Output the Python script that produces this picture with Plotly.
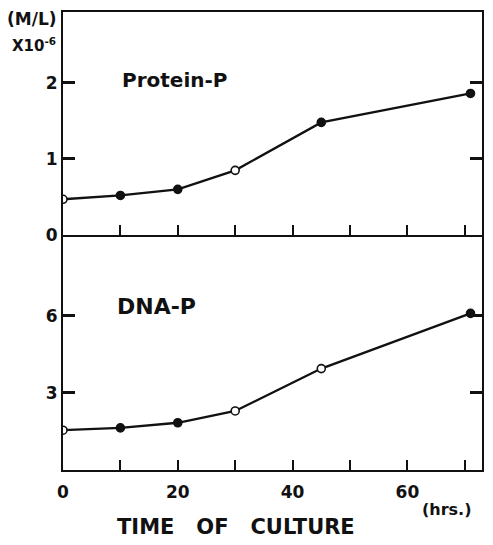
import plotly.graph_objects as go
from plotly.subplots import make_subplots

# ---- data ----
hours = [0, 10, 20, 30, 45, 71]
protein_p = [0.47, 0.52, 0.60, 0.85, 1.48, 1.86]
dna_p = [1.55, 1.64, 1.84, 2.30, 3.95, 6.10]
protein_open = [True, False, False, True, False, False]
dna_open = [True, False, False, True, True, False]

x_tick_vals = [0, 20, 40, 60]
x_tick_text = ["0", "20", "40", "60"]
x_minor_step = 10
x_range = [0, 73]
protein_tick_vals = [0, 1, 2]
dna_tick_vals = [3, 6]
protein_range = [0, 2.93]
dna_range = [0, 9.15]

INK = "#111111"
FONT = "DejaVu Sans"

fig = make_subplots(rows=2, cols=1, shared_xaxes=True, vertical_spacing=0.0,
                    row_heights=[0.487, 0.513])

def fills(flags):
    return ["white" if f else INK for f in flags]

fig.add_trace(go.Scatter(
    x=hours, y=protein_p, mode="lines+markers",
    line=dict(color=INK, width=2.3),
    marker=dict(size=8, color=fills(protein_open), line=dict(color=INK, width=1.6)),
    showlegend=False, hoverinfo="skip"), row=1, col=1)

fig.add_trace(go.Scatter(
    x=hours, y=dna_p, mode="lines+markers",
    line=dict(color=INK, width=2.3),
    marker=dict(size=8, color=fills(dna_open), line=dict(color=INK, width=1.6)),
    showlegend=False, hoverinfo="skip"), row=2, col=1)

tickfont = dict(family=FONT, size=17, color=INK, weight="bold")

common_x = dict(range=x_range, showgrid=False, zeroline=False, showline=True,
                linecolor=INK, linewidth=2.2,
                ticks="inside", ticklen=10, tickwidth=2, tickcolor=INK)
fig.update_xaxes(**common_x, mirror=True, tickmode="linear", tick0=0, dtick=x_minor_step,
                 showticklabels=False, row=1, col=1)
fig.update_xaxes(**common_x, mirror=False, tickmode="array", tickvals=x_tick_vals,
                 ticktext=x_tick_text, tickfont=tickfont, ticklabelstandoff=5,
                 minor=dict(ticks="inside", ticklen=10, tickwidth=2, tickcolor=INK,
                            dtick=x_minor_step, tick0=0),
                 row=2, col=1)

common_y = dict(showgrid=False, zeroline=False, showline=True, linecolor=INK,
                linewidth=2.2, mirror="ticks", ticks="inside", ticklen=12,
                tickwidth=2.5, tickcolor=INK, tickfont=tickfont, tickmode="array")
fig.update_yaxes(**common_y, range=protein_range, tickvals=protein_tick_vals, row=1, col=1)
fig.update_yaxes(**common_y, range=dna_range, tickvals=dna_tick_vals, row=2, col=1)

annotations = [
    dict(text="(M/L)", x=-0.074, y=0.985, font=dict(family=FONT, size=17, color=INK, weight="bold")),
    dict(text="X10<sup>-6</sup>", x=-0.069, y=0.928, font=dict(family=FONT, size=15, color=INK, weight="bold")),
    dict(text="Protein-P", x=0.135, y=0.852, xanchor="left", font=dict(family=FONT, size=20, color=INK, weight="bold")),
    dict(text="DNA-P", x=0.124, y=0.358, xanchor="left", font=dict(family=FONT, size=22, color=INK, weight="bold")),
    dict(text="TIME   OF   CULTURE", x=0.414, y=-0.124, font=dict(family=FONT, size=21, color=INK, weight="bold")),
    dict(text="(hrs.)", x=0.851, y=-0.087, xanchor="left", font=dict(family=FONT, size=16, color=INK, weight="bold")),
]
for a in annotations:
    a.update(xref="paper", yref="paper", showarrow=False)
    a.setdefault("xanchor", "center")
    a.setdefault("yanchor", "middle")
fig.update_layout(annotations=annotations)

fig.update_layout(width=493, height=545, margin=dict(l=63, r=9, t=12, b=75),
                  paper_bgcolor="white", plot_bgcolor="white")

fig.write_html("out.html", config={"displayModeBar": False},
               post_script="document.body.style.margin='0';"
                           "document.body.style.overflow='hidden';")
